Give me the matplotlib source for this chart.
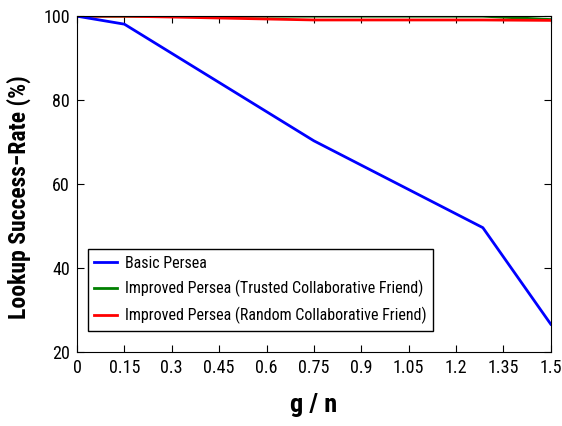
import matplotlib
matplotlib.use("Agg")
import matplotlib.pyplot as plt

x_basic = [0, 0.15, 0.75, 1.285, 1.5]
y_basic = [100, 98.1, 70.3, 49.6, 26.6]
x_trusted = [0, 0.15, 0.75, 1.285, 1.5]
y_trusted = [100, 100, 100, 100, 99.2]
x_random = [0, 0.15, 0.3, 0.75, 1.285, 1.5]
y_random = [100, 100, 99.8, 99.1, 99.1, 99.0]
xticks = [0, 0.15, 0.3, 0.45, 0.6, 0.75, 0.9, 1.05, 1.2, 1.35, 1.5]
xticklabels = ["0", "0.15", "0.3", "0.45", "0.6", "0.75", "0.9", "1.05", "1.2", "1.35", "1.5"]
yticks = [20, 40, 60, 80, 100]

plt.rcParams['font.family'] = ['Roboto Condensed', 'Liberation Sans', 'DejaVu Sans']
fig = plt.figure(figsize=(5.62, 4.26), dpi=100)
ax = fig.add_axes([0.137, 0.174, 0.843, 0.788])
ax.plot(x_trusted, y_trusted, color='#008000', lw=2, label='Improved Persea (Trusted Collaborative Friend)')
ax.plot(x_random, y_random, color='#ff0000', lw=2, label='Improved Persea (Random Collaborative Friend)')
ax.plot(x_basic, y_basic, color='#0000ff', lw=2, label='Basic Persea')
ax.set_xlim(0, 1.5)
ax.set_ylim(20, 100)
ax.set_xticks(xticks)
ax.set_xticklabels(xticklabels)
ax.set_yticks(yticks)
ax.tick_params(direction='in', top=True, right=True, labelsize=13, length=5, pad=5)
ax.set_xlabel('g / n', fontsize=19, fontweight='bold', labelpad=12)
ax.set_ylabel('Lookup Success\u2212Rate (%)', fontsize=17, fontweight='bold')
ax.yaxis.set_label_coords(-0.097, 0.46)
h, l = ax.get_legend_handles_labels()
order = [2, 0, 1]
leg = ax.legend([h[i] for i in order], [l[i] for i in order], loc='lower left',
                bbox_to_anchor=(0.023, 0.063), fontsize=11.5, fancybox=False,
                edgecolor='black', framealpha=1, handlelength=1.4, borderpad=0.4,
                labelspacing=0.6, handletextpad=0.5, borderaxespad=0)
leg.get_frame().set_linewidth(1.0)
fig.savefig('out.png', dpi=100)
